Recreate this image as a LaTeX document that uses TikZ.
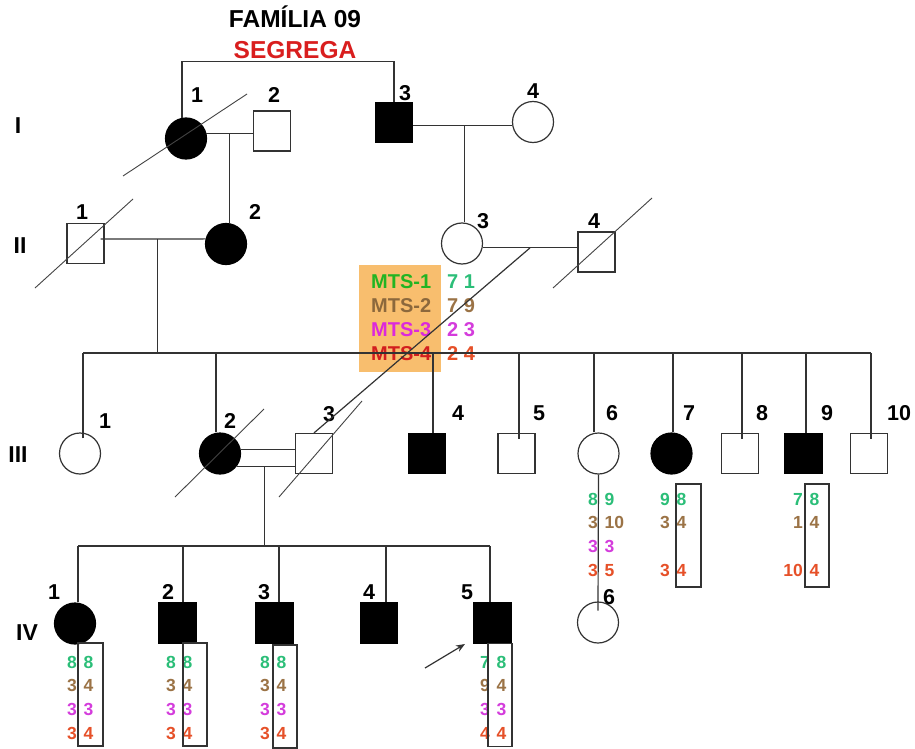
\documentclass[tikz,border=0pt]{standalone}
\usepackage{fontspec}
\setmainfont{Liberation Sans}
\usetikzlibrary{calc,arrows.meta}

\definecolor{lineclr}{HTML}{333333}
\definecolor{slashclr}{HTML}{444444}
\definecolor{segred}{HTML}{D91E1E}
\definecolor{legendfill}{HTML}{F8BE6E}
\definecolor{mts1}{HTML}{22B422}
\definecolor{mts2}{HTML}{8C683C}
\definecolor{mts3}{HTML}{DC28DC}
\definecolor{mts4}{HTML}{D21E1E}
\definecolor{hap1}{HTML}{2BBE78}
\definecolor{hap2}{HTML}{9B7346}
\definecolor{hap3}{HTML}{D43CDC}
\definecolor{hap4}{HTML}{E65028}

% two allele columns of one individual: prefix, split x, first baseline, left alleles, right alleles
\newcommand\haplotype[5]{%
  \foreach \v [count=\i] in {#4}
    \node[hapnum, text=hap\i, anchor=base east] (#1a\i) at (#2, {#3+(\i-1)*23.8}) {\v};
  \foreach \v [count=\i] in {#5}
    \node[hapnum, text=hap\i, anchor=base west] (#1b\i) at ({#2+6.5}, {#3+(\i-1)*23.8}) {\v};
}

\begin{document}
\begin{tikzpicture}[x=1pt, y=-1pt,
  person/.style={draw=lineclr, line width=1.2pt, inner sep=0pt},
  male/.style={person, rectangle, minimum width=37pt, minimum height=40pt},
  female/.style={person, circle, minimum size=41pt},
  aff/.style={fill=black, draw=black},
  idlabel/.style={font=\fontsize{21.5}{22}\selectfont\bfseries, inner sep=0pt},
  genlabel/.style={font=\fontsize{23}{23}\selectfont\bfseries, inner sep=0pt, anchor=base},
  titlefont/.style={font=\fontsize{24.5}{25}\selectfont\bfseries, inner sep=0pt, anchor=base},
  hapnum/.style={font=\fontsize{17.5}{18}\selectfont\bfseries, inner sep=0pt},
  mtsname/.style={font=\fontsize{20}{20}\selectfont\bfseries, inner sep=0pt, anchor=base west},
  hapbox/.style={draw=lineclr, line width=1.2pt, inner sep=0pt, rectangle, minimum height=103pt, minimum width=25pt},
  link/.style={draw=lineclr, line width=1.2pt},
  slash/.style={draw=slashclr, line width=0.9pt}]

\fill[white] (0,0) rectangle (915,749);
\useasboundingbox (0,0) rectangle (915,749);

% heading
\node[titlefont] (title) at (295,28) {FAMÍLIA 09};
\node[titlefont, text=segred] (subtitle) at (295,59) {SEGREGA};

% marker legend
\node[fill=legendfill, minimum width=82pt, minimum height=107pt, inner sep=0pt] (legend) at (400,318.5) {};
\foreach \t/\b [count=\i] in {MTS-1/7 1, MTS-2/7 9, MTS-3/2 3, MTS-4/2 4} {
  \node[mtsname, text=mts\i] (mtsn\i) at (371,{288+(\i-1)*24}) {\t};
  \node[mtsname, text=hap\i] (mtsv\i) at (447,{288+(\i-1)*24}) {\b};
}

% generation labels
\node[genlabel] (gI) at (18,133) {I};
\node[genlabel] (gII) at (20,253) {II};
\node[genlabel] (gIII) at (18,462) {III};
\node[genlabel] (gIV) at (27,640) {IV};

% generation I
\node[female, aff] (I1) at (186,138.5) {};
\node[male] (I2) at (272,131) {};
\node[male, aff] (I3) at (394,122.5) {};
\node[female] (I4) at (533,122) {};
% generation II
\node[male] (II1) at (85.5,243.5) {};
\node[female, aff] (II2) at (226,244) {};
\node[female] (II3) at (462,243.5) {};
\node[male] (II4) at (596.5,252) {};
% generation III
\node[female] (III1) at (80,453.5) {};
\node[female, aff] (III2) at (220,453.5) {};
\node[male] (III3) at (314,453.5) {};
\node[male, aff] (III4) at (427,453.5) {};
\node[male] (III5) at (516.5,453.5) {};
\node[female] (III6) at (598.5,453.5) {};
\node[female, aff] (III7) at (671.5,453.5) {};
\node[male] (III8) at (740,453.5) {};
\node[male, aff] (III9) at (803.5,453.5) {};
\node[male] (III10) at (869,453.5) {};
% generation IV
\node[female, aff] (IV1) at (75,623.5) {};
\node[male, aff] (IV2) at (177.5,623) {};
\node[male, aff] (IV3) at (274.5,623) {};
\node[male, aff] (IV4) at (379,623) {};
\node[male, aff] (IV5) at (492.5,623) {};
\node[female] (IV6) at (598,622.5) {};

% individual numbers
\node[idlabel] (nI1) at (197,95) {1};
\node[idlabel] (nI2) at (274,95) {2};
\node[idlabel] (nI3) at (405,93) {3};
\node[idlabel] (nI4) at (533,91) {4};
\node[idlabel] (nII1) at (82,212) {1};
\node[idlabel] (nII2) at (255,212) {2};
\node[idlabel] (nII3) at (483,221) {3};
\node[idlabel] (nII4) at (594,221) {4};
\node[idlabel] (nIII1) at (105,421) {1};
\node[idlabel] (nIII2) at (230,421) {2};
\node[idlabel] (nIII3) at (329,414) {3};
\node[idlabel] (nIII4) at (458,413) {4};
\node[idlabel] (nIII5) at (539,413) {5};
\node[idlabel] (nIII6) at (612,413) {6};
\node[idlabel] (nIII7) at (689,413) {7};
\node[idlabel] (nIII8) at (762,413) {8};
\node[idlabel] (nIII9) at (827,413) {9};
\node[idlabel] (nIII10) at (899,413) {10};
\node[idlabel] (nIV1) at (54,592) {1};
\node[idlabel] (nIV2) at (168,592) {2};
\node[idlabel] (nIV3) at (264,592) {3};
\node[idlabel] (nIV4) at (369,592) {4};
\node[idlabel] (nIV5) at (467,592) {5};
\node[idlabel] (nIV6) at (609,597) {6};

% bracket over the two founding lines
\draw[link] (I1.101) -- ++(0,-56.5) -| (I3.north);

% couples and descent lines
\draw[link] (I1.14) -- coordinate[pos=0.5] (m12) (I1.14 -| I2.west);
\draw[link] (m12) -- (m12 |- II2.north);
\draw[link] (I3.-10) -- coordinate[pos=0.52] (m34) (I3.-10 -| I4.west);
\draw[link] (m34) -- (m34 |- II3.north);

\coordinate (sib3) at (83,353);
\coordinate (sib3r) at (871,353);
\coordinate (sib4) at (78,546);
\coordinate (sib4r) at (490,546);

\draw[link] ([xshift=-4pt,yshift=4.5pt]II1.east) -- coordinate[pos=0.54] (m2a) (II2.166);
\draw[link] (m2a) -- (m2a |- sib3);
\draw[link] (II3.-12) -- coordinate[pos=0.5] (m2b) (II3.-12 -| II4.west);
\draw[link] (m2b) -- (III3.north);

% sibship of generation III
\draw[link] (sib3) -- (sib3r);
\foreach \n/\dx/\pen in {III1/3/6, III2/-4/0, III4/6/0, III5/2.5/6, III6/-4.5/0,
                         III7/1.5/0, III8/2/6, III9/2.5/0, III10/2/6}
  \draw[link] ([xshift=\dx pt]\n.north) coordinate (top) ++(0,\pen) -- (top |- sib3);

% consanguineous couple III-2 x III-3
\draw[link] (III2.10) -- (III2.10 -| III3.west);
\draw[link] (III2.-37.6) -- coordinate[pos=0.47] (m3) (III2.-37.6 -| III3.west);
\draw[link] (m3) -- (m3 |- sib4);

% sibship of generation IV
\draw[link] (sib4) -- (sib4r);
\foreach \n/\dx in {IV1/3, IV2/5.5, IV3/4.5, IV4/7, IV5/-2.5}
  \draw[link] ([xshift=\dx pt]\n.north) coordinate (top) -- (top |- sib4);

% III-6 to IV-6
\draw[link] (III6.south) -- ($(IV6.center)+(0,-12)$);

% deceased
\draw[slash] (123,176) -- (247,94);
\draw[slash] (35,288) -- (133,199);
\draw[slash] (553,288) -- (652,198);
\draw[slash] (175,497) -- (264,409);
\draw[slash] (279,497) -- (362,401);

% proband
\coordinate (ptail) at (425,668);
\coordinate (phead) at (465,644);
\draw[link, -{Stealth[length=9pt,width=7pt]}] (ptail) -- (phead);

% haplotypes
\haplotype{h36}{598}{505}{8,3,3,3}{9,10,3,5}
\haplotype{h37}{670}{505}{9,3,{},3}{8,4,{},4}
\haplotype{h39}{803}{505}{7,1,{},10}{8,4,{},4}
\haplotype{h41}{77}{668}{8,3,3,3}{8,4,3,4}
\haplotype{h42}{176}{668}{8,3,3,3}{8,4,3,4}
\haplotype{h43}{270}{668}{8,3,3,3}{8,4,3,4}
\haplotype{h45}{490}{668}{7,9,3,4}{8,4,3,4}

% segregating haplotype frames
\node[hapbox] (b37) at (688.5,535.5) {};
\node[hapbox, minimum width=24pt] (b39) at (817,535.5) {};
\node[hapbox] (b41) at (90.5,694.5) {};
\node[hapbox, minimum width=24pt] (b42) at (195,694.5) {};
\node[hapbox, minimum width=24pt] (b43) at (285,696.5) {};
\node[hapbox, minimum width=24pt] (b45) at (500,695) {};
\end{tikzpicture}
\end{document}
